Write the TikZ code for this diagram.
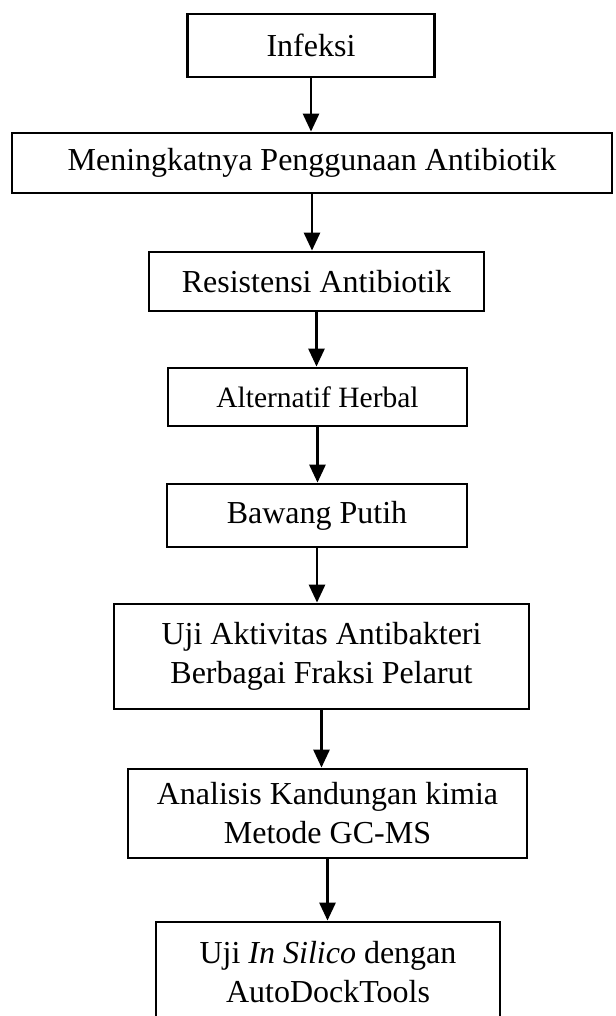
\documentclass[tikz,border=0pt]{standalone}
\usepackage{fontspec}
\setmainfont{Liberation Serif}
\usetikzlibrary{arrows.meta,positioning}
\tikzset{
	stage/.style={draw=black, line width=2.8pt, inner sep=0pt, align=center, text centered, font=\fontsize{32}{39}\selectfont},
	smallstage/.style={stage, font=\fontsize{29.5}{36}\selectfont},
	flowedge/.style={-{Triangle[length=18pt,width=16pt]}, line width=2.8pt, color=black}
}
\begin{document}
\begin{tikzpicture}[x=1pt,y=-1pt]
	\clip (0,0) rectangle (615,1016);
	
	%%%% upper part
	\node[stage, minimum width=247pt, minimum height=63pt] (infeksi) at (311,45.5) {Infeksi};
	\node[stage, minimum width=600pt, minimum height=60pt] (guna) at (312,163) {Meningkatnya Penggunaan Antibiotik};
	\node[stage, minimum width=335pt, minimum height=59pt] (resist) at (316.5,281.5) {Resistensi Antibiotik};
	\node[smallstage, minimum width=299pt, minimum height=58pt] (herbal) at (317.5,397) {Alternatif Herbal};
	\node[stage, minimum width=300pt, minimum height=63pt] (bawang) at (317,515.5) {Bawang Putih};
	
	%%%% lower part
	\node[stage, minimum width=415pt, minimum height=105pt] (uji) at (321.5,656.5) {Uji Aktivitas Antibakteri\\Berbagai Fraksi Pelarut};
	\node[stage, minimum width=399pt, minimum height=89pt] (gcms) at (327.5,813.5) {Analisis Kandungan kimia\\Metode GC-MS};
	\node[stage, minimum width=344pt, minimum height=101pt] (silico) at (328,972.5) {Uji \textit{In Silico} dengan\\AutoDockTools};
	
	\draw[flowedge] (infeksi.south) -- (infeksi.south |- guna.north);
	\draw[flowedge] (guna.south) -- (guna.south |- resist.north);
	\draw[flowedge] (resist.south) -- (resist.south |- herbal.north);
	\draw[flowedge] (herbal.south) -- (herbal.south |- bawang.north);
	\draw[flowedge] (bawang.south) -- (bawang.south |- uji.north);
	\draw[flowedge] (uji.south) -- (uji.south |- gcms.north);
	\draw[flowedge] (gcms.south) -- (gcms.south |- silico.north);
	
\end{tikzpicture}
\end{document}
